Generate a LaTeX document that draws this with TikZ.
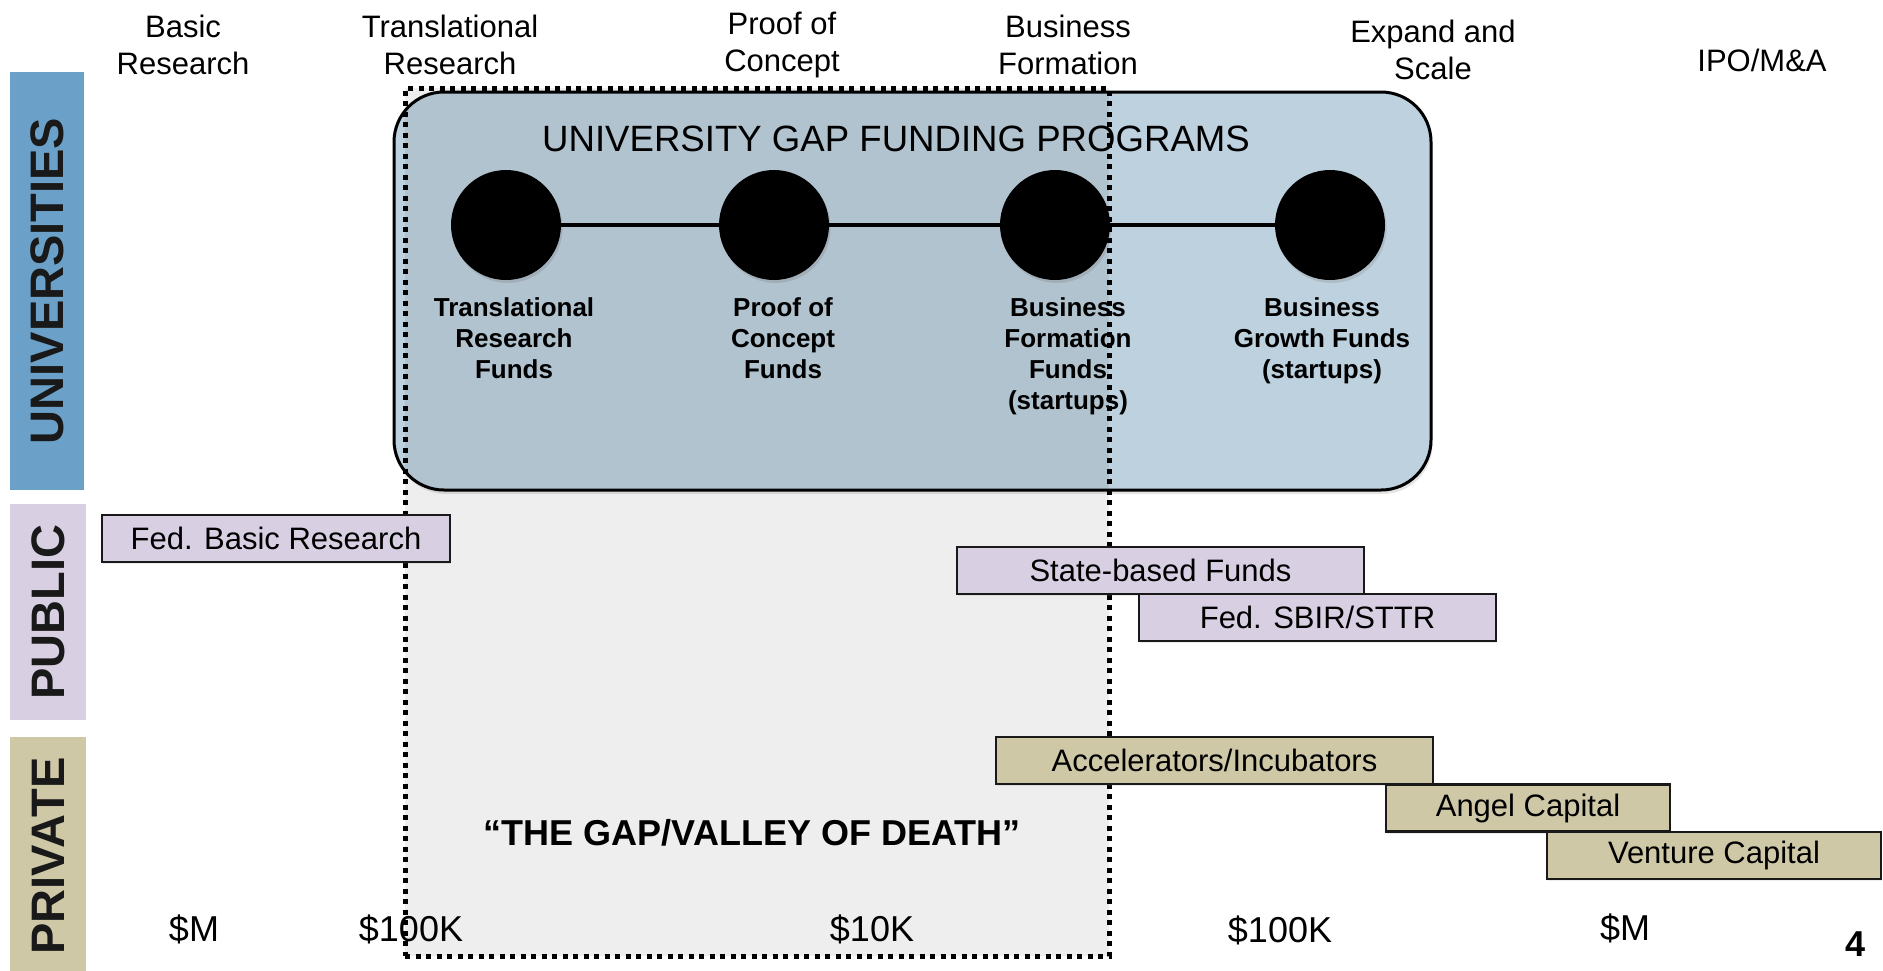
\documentclass[tikz,border=0pt]{standalone}
\usepackage{fontspec}
\setmainfont{Liberation Sans}
\usepackage{xcolor}
\usetikzlibrary{positioning,shadows}

\definecolor{uniblue}{HTML}{6BA1C9}
\definecolor{pubpurple}{HTML}{D8CFE3}
\definecolor{privtan}{HTML}{CFC8A7}
\definecolor{gapblue}{HTML}{BED1DE}

\begin{document}
\begin{tikzpicture}[
  x=0.5pt, y=-0.5pt,
  phase/.style={align=center, inner sep=0pt,
    font=\fontsize{15.5}{18.5}\selectfont},
  sector/.style={rotate=90, inner sep=0pt, text=black!90,
    font=\fontsize{23.5}{26}\selectfont\bfseries},
  fund/.style={circle, fill=black, minimum size=55pt, inner sep=0pt,
    drop shadow={shadow xshift=0.8pt, shadow yshift=-1.5pt, opacity=0.25}},
  fundlbl/.style={align=center, inner sep=0pt,
    font=\fontsize{13}{15.5}\selectfont\bfseries},
  src/.style={draw=black!90, line width=1.2pt, inner sep=0pt,
    minimum height=23.5pt, font=\fontsize{15.5}{18}\selectfont,
    drop shadow={shadow xshift=0.5pt, shadow yshift=-1pt, opacity=0.15}},
  money/.style={inner sep=0pt, font=\fontsize{18}{21}\selectfont},
]
\useasboundingbox (0,0) rectangle (1883,970);
\fill[white] (0,0) rectangle (1883,970);

\node[sector, fill=uniblue, minimum width=209pt, minimum height=37pt]
  (univ) at (47,281) {UNIVERSITIES};
\node[sector, fill=pubpurple, minimum width=108pt, minimum height=38pt]
  (pub) at (48,612) {PUBLIC};
\node[sector, fill=privtan, minimum width=119pt, minimum height=38pt]
  (priv) at (48,856) {PRIVATE};

\node[draw, line width=1.5pt, fill=gapblue, rounded corners=25pt,
  minimum width=518.5pt, minimum height=199pt,
  drop shadow={shadow xshift=0.8pt, shadow yshift=-2pt, opacity=0.2}]
  (uni) at (912.5,291) {};
\node[inner sep=0pt, font=\fontsize{18.3}{21}\selectfont]
  (unititle) at (896,139) {UNIVERSITY GAP FUNDING PROGRAMS};

\node[fund] (c1) at (506,225) {};
\node[fund] (c2) at (774,225) {};
\node[fund] (c3) at (1055,225) {};
\node[fund] (c4) at (1330,225) {};
\draw[line width=2pt] (c1) -- (c2) -- (c3) -- (c4);

\node[fundlbl, below=8.5pt of c1, xshift=4pt] (l1) {Translational\\Research\\Funds};
\node[fundlbl, below=8.5pt of c2, xshift=4.5pt] (l2) {Proof of\\Concept\\Funds};
\node[fundlbl, below=8.5pt of c3, xshift=6.5pt] (l3) {Business\\Formation\\Funds\\(startups)};
\node[fundlbl, below=8.5pt of c4, xshift=-4pt] (l4) {Business\\Growth Funds\\(startups)};

\node[draw, line width=2.5pt, dash pattern=on 2.5pt off 2.75pt,
  fill=black, fill opacity=0.065, minimum width=352pt, minimum height=434pt]
  (gap) at (757,522) {};

\node[src, fill=pubpurple, minimum width=174pt] (fbr) at (276,538.5) {Fed. Basic Research};
\node[src, fill=pubpurple, minimum width=203.5pt] (state) at (1160.5,570.5) {State-based Funds};
\node[src, fill=pubpurple, minimum width=178.5pt] (sbir) at (1317.5,617.5) {Fed. SBIR/STTR};
\node[src, fill=privtan, minimum width=218.5pt] (accel) at (1214.5,760.5) {Accelerators/Incubators};
\node[src, fill=privtan, minimum width=142pt] (angel) at (1528,808) {Angel Capital};
\node[src, fill=privtan, minimum width=167pt] (vc) at (1714,855.5) {Venture Capital};

\node[phase] (basic) at (183,45) {Basic\\Research};
\node[phase] (transl) at (450,45) {Translational\\Research};
\node[phase] (poc) at (782,45) {Proof of\\Concept};
\node[phase] (form) at (1068,45) {Business\\Formation};
\node[phase] (scale) at (1433,50) {Expand and\\Scale};
\node[phase] (ipo) at (1762,60) {IPO/M\&A};

\node[inner sep=0pt, font=\fontsize{18}{21}\selectfont\bfseries]
  (valley) at (752,833) {“THE GAP/VALLEY OF DEATH”};

\node[money] (m1) at (194,929) {\$M};
\node[money] (m2) at (411,929) {\$100K};
\node[money] (m3) at (872,929) {\$10K};
\node[money] (m4) at (1280,930) {\$100K};
\node[money] (m5) at (1625,928) {\$M};

\node[inner sep=0pt, font=\fontsize{18}{21}\selectfont\bfseries] (pg) at (1855,944) {4};
\end{tikzpicture}
\end{document}
